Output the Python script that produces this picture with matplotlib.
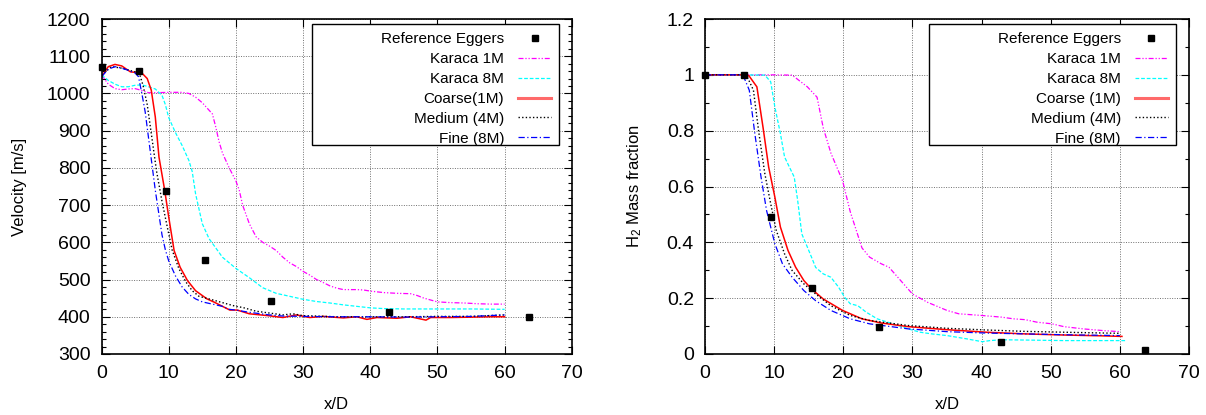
import numpy as np
import matplotlib
matplotlib.use("Agg")
import matplotlib.pyplot as plt
from matplotlib.ticker import MultipleLocator
from matplotlib.patches import Rectangle

plt.rcParams["font.family"] = ["Liberation Sans", "DejaVu Sans"]
plt.rcParams["mathtext.fontset"] = "custom"
plt.rcParams["mathtext.rm"] = "Liberation Sans"
plt.rcParams["mathtext.it"] = "Liberation Sans:italic"

# ---- velocity (left) ----
ref_x = [0, 5.6, 9.6, 15.4, 25.2, 42.8, 63.6]
ref_vel = [1072, 1060, 737, 552, 442, 414, 400]

k1_vel_x = [0, 1, 2, 3, 4, 5, 6, 7, 8, 10, 12, 13, 14, 15, 16, 16.5, 17, 17.5, 18, 19, 20, 20.5, 21, 22, 23, 24,
            25, 26, 27, 28, 29, 30, 31, 32, 33, 34, 35, 36, 38, 39, 40, 42, 44, 46, 47, 48, 49, 50, 52, 54, 56, 58, 60]
k1_vel = [1050, 1025, 1013, 1010, 1012, 1013, 1008, 1002, 1002, 1003, 1003, 1000, 990, 975, 955, 945, 910, 870,
          840, 800, 765, 740, 700, 650, 615, 600, 590, 578, 560, 545, 535, 522, 512, 500, 492, 483, 477, 473, 473,
          472, 469, 465, 463, 462, 457, 450, 445, 440, 438, 437, 435, 434, 434]

k8_vel_x = [0, 1, 2, 3, 4, 5, 6, 7, 8, 9, 9.5, 10, 11, 12, 13, 13.5, 14, 14.5, 15, 16, 17, 18, 19, 20, 22, 24, 26,
            28, 30, 32, 34, 36, 38, 40, 42, 45, 50, 55, 60]
k8_vel = [1050, 1035, 1025, 1018, 1018, 1022, 1023, 1018, 1012, 995, 970, 935, 895, 860, 820, 790, 730, 690, 650,
          610, 585, 560, 545, 530, 505, 478, 463, 455, 447, 441, 437, 432, 428, 424, 422, 421, 421, 421, 420]

coarse_vel_x = [0, 1, 2, 3, 4.3, 6, 6.8, 7.4, 8, 8.55, 9.4, 10, 10.8, 11.7, 12.8, 14, 15.7, 16.8, 19.1, 20.2, 22,
                24.8, 27, 29, 31, 33, 36, 38, 39.5, 41, 44, 46, 48.3, 49, 52, 55, 58, 60]
coarse_vel = [1045, 1072, 1078, 1074, 1058, 1055, 1040, 1009, 937, 829, 740, 668, 578, 533, 497, 470, 448, 439,
              418, 418, 408, 403, 398, 405, 398, 401, 397, 400, 393, 398, 396, 400, 391, 398, 398, 399, 400, 400]

medium_vel_x = [0, 1.5, 3, 5, 5.7, 6.2, 6.8, 7.5, 8.2, 9, 9.8, 10.5, 11.5, 12.5, 13.5, 14.5, 16, 18, 20, 21, 23,
                25, 27, 28.5, 30, 32, 35, 40, 45, 50, 55, 60]
medium_vel = [1050, 1072, 1068, 1058, 1050, 1020, 970, 880, 790, 710, 640, 580, 530, 495, 470, 455, 448, 438, 428,
              425, 415, 410, 405, 408, 403, 402, 400, 400, 400, 401, 401, 405]

fine_vel_x = [0, 1, 2, 3, 4, 5, 5.5, 6, 6.5, 7, 7.5, 8, 8.5, 9, 9.5, 10, 11, 12, 13, 14, 15, 16, 18, 19, 20, 22,
              25, 27, 30, 35, 40, 45, 50, 55, 60]
fine_vel = [1045, 1065, 1072, 1068, 1062, 1055, 1045, 1000, 950, 880, 810, 740, 680, 620, 580, 550, 510, 480, 460,
            448, 440, 436, 428, 420, 418, 412, 405, 402, 401, 400, 400, 399, 400, 401, 405]

# ---- H2 mass fraction (right) ----
ref_y = [1.0, 1.0, 0.49, 0.236, 0.098, 0.042, 0.016]

k1_h2_x = [0, 5, 10, 12.6, 14.8, 16.2, 17.1, 18.2, 19.9, 21, 22.7, 23.8, 25.5, 26.6, 28.3, 30, 32.2, 35, 36.7,
           40, 42.9, 44.6, 46.3, 48, 50.2, 51.9, 54.7, 57.5, 60]
k1_h2 = [1.0, 1.0, 1.0, 0.999, 0.957, 0.92, 0.81, 0.72, 0.62, 0.51, 0.38, 0.347, 0.323, 0.311, 0.263, 0.215,
         0.185, 0.156, 0.144, 0.138, 0.132, 0.126, 0.123, 0.114, 0.108, 0.098, 0.09, 0.084, 0.08]

k8_h2_x = [0, 5, 8.65, 9.5, 10.1, 10.9, 11.5, 12, 12.9, 13.4, 14, 14.8, 15.4, 16, 17.1, 18.2, 19.3, 20.2, 21, 22.1,
           23.3, 24.9, 27.2, 29.4, 31.1, 32.8, 35, 37.9, 40.1, 41.2, 42.9, 46.3, 51.9, 57.5, 60.9]
k8_h2 = [1.0, 1.0, 0.999, 0.975, 0.885, 0.79, 0.706, 0.68, 0.634, 0.55, 0.43, 0.383, 0.347, 0.31, 0.287, 0.275,
         0.24, 0.203, 0.18, 0.173, 0.15, 0.126, 0.108, 0.09, 0.078, 0.072, 0.066, 0.054, 0.044, 0.048, 0.051, 0.05,
         0.048, 0.048, 0.048]

coarse_h2_x = [0, 6, 6.4, 7.5, 8.4, 9.2, 10.1, 10.9, 12, 13.1, 14.3, 15.4, 17.1, 19.9, 22.7, 25.5, 29.4, 35, 40.7,
               46.3, 51.9, 57.5, 60.3]
coarse_h2 = [1.0, 1.0, 0.995, 0.957, 0.81, 0.67, 0.562, 0.455, 0.371, 0.311, 0.263, 0.233, 0.197, 0.156, 0.126,
             0.111, 0.098, 0.087, 0.078, 0.072, 0.068, 0.065, 0.063]

medium_h2_x = [0, 5.6, 6.1, 7, 7.8, 8.65, 9.5, 10.3, 11.5, 12.6, 14.3, 16, 18.2, 21, 23.8, 29.4, 35, 40.7, 46.3,
               51.9, 60]
medium_h2 = [1.0, 1.0, 0.993, 0.945, 0.79, 0.646, 0.538, 0.443, 0.359, 0.299, 0.251, 0.215, 0.173, 0.138, 0.12,
             0.102, 0.092, 0.086, 0.081, 0.078, 0.074]

fine_h2_x = [0, 5.2, 5.6, 6.4, 7.2, 8.1, 8.9, 10.1, 11.2, 12.6, 14.3, 16, 18.2, 21, 23.8, 29.4, 35, 40.7, 46.3,
             51.9, 60]
fine_h2 = [1.0, 1.0, 0.993, 0.945, 0.79, 0.634, 0.514, 0.395, 0.323, 0.275, 0.227, 0.191, 0.156, 0.126, 0.108,
           0.09, 0.08, 0.075, 0.072, 0.069, 0.066]

labels_left = ["Reference Eggers", "Karaca 1M", "Karaca 8M", "Coarse(1M)", "Medium (4M)", "Fine (8M)"]
labels_right = ["Reference Eggers", "Karaca 1M", "Karaca 8M", "Coarse (1M)", "Medium (4M)", "Fine (8M)"]

dashdotdot = (0, (4, 1.5, 1, 1.5, 1, 1.5))
dashed = (0, (3, 1.5))
dotted = (0, (1, 1.6))
dashdot = (0, (5, 2, 1, 2))


def draw(ax, series, labels, ref_vals, box_left):
    ax.plot(ref_x, ref_vals, ls="none", marker="s", ms=5, color="black", label=labels[0], clip_on=False, zorder=5)
    styles = [("#ff00ff", dashdotdot, 0.9), ("#00ffff", dashed, 0.9), ("#ff0000", "-", 1.1),
              ("black", dotted, 1.0), ("#0000ff", dashdot, 0.9)]
    for (x, y), lab, (c, ls, lw) in zip(series, labels[1:], styles):
        ax.plot(x, y, color=c, ls=ls, lw=lw, label=lab)
    ax.set_xlim(0, 70)
    ax.xaxis.set_major_locator(MultipleLocator(10))
    ax.grid(True, which="major", color="#707070", ls=(0, (1, 1.5)), lw=0.7)
    ax.tick_params(which="both", direction="in", top=True, right=True, labelsize=14, width=0.8)
    ax.tick_params(which="major", length=6, pad=8)
    ax.tick_params(which="minor", length=3)
    for sp in ax.spines.values():
        sp.set_linewidth(1.2)
    # gnuplot style key: wide white box, labels right-aligned, samples on the right
    ax.add_patch(Rectangle((box_left, 0.624), 0.973 - box_left, 0.36, transform=ax.transAxes,
                           facecolor="white", edgecolor="black", lw=1.0, zorder=6))
    leg = ax.legend(loc="upper right", bbox_to_anchor=(0.973, 0.984), borderaxespad=0, markerfirst=False,
                    fontsize=11, frameon=False, handlelength=2.2, handletextpad=0.9, labelspacing=0.39,
                    borderpad=0.5)
    leg.set_zorder(7)
    lines = leg.get_lines()
    lines[3].set_linewidth(2.2)
    lines[3].set_color("#ff6a6a")
    ax.set_xlabel("x/D", fontsize=12)
    ax.xaxis.label.set_va("center")
    ax.xaxis.set_label_coords(0.5, -0.152)


fig = plt.figure(figsize=(12.06, 4.15), dpi=100)
ax1 = fig.add_axes([0.0842, 0.147, 0.3899, 0.8072])
ax2 = fig.add_axes([0.5846, 0.147, 0.4013, 0.8072])

draw(ax1, [(k1_vel_x, k1_vel), (k8_vel_x, k8_vel), (coarse_vel_x, coarse_vel),
           (medium_vel_x, medium_vel), (fine_vel_x, fine_vel)], labels_left, ref_vel, 0.4477)
ax1.set_ylim(300, 1200)
ax1.yaxis.set_major_locator(MultipleLocator(100))
ax1.yaxis.set_minor_locator(MultipleLocator(20))
ax1.set_ylabel("Velocity [m/s]", fontsize=12)
ax1.yaxis.label.set_va("center")
ax1.yaxis.set_label_coords(-0.1755, 0.5)

draw(ax2, [(k1_h2_x, k1_h2), (k8_h2_x, k8_h2), (coarse_h2_x, coarse_h2),
           (medium_h2_x, medium_h2), (fine_h2_x, fine_h2)], labels_right, ref_y, 0.4628)
ax2.set_ylim(0, 1.2)
ax2.yaxis.set_major_locator(MultipleLocator(0.2))
ax2.yaxis.set_minor_locator(MultipleLocator(0.1))
ax2.yaxis.set_major_formatter(plt.FuncFormatter(lambda v, p: "%g" % round(v, 1)))
ax2.set_ylabel("H$_2$ Mass fraction", fontsize=12)
ax2.yaxis.label.set_va("center")
ax2.yaxis.set_label_coords(-0.1446, 0.5)

fig.savefig("out.png", dpi=100)
